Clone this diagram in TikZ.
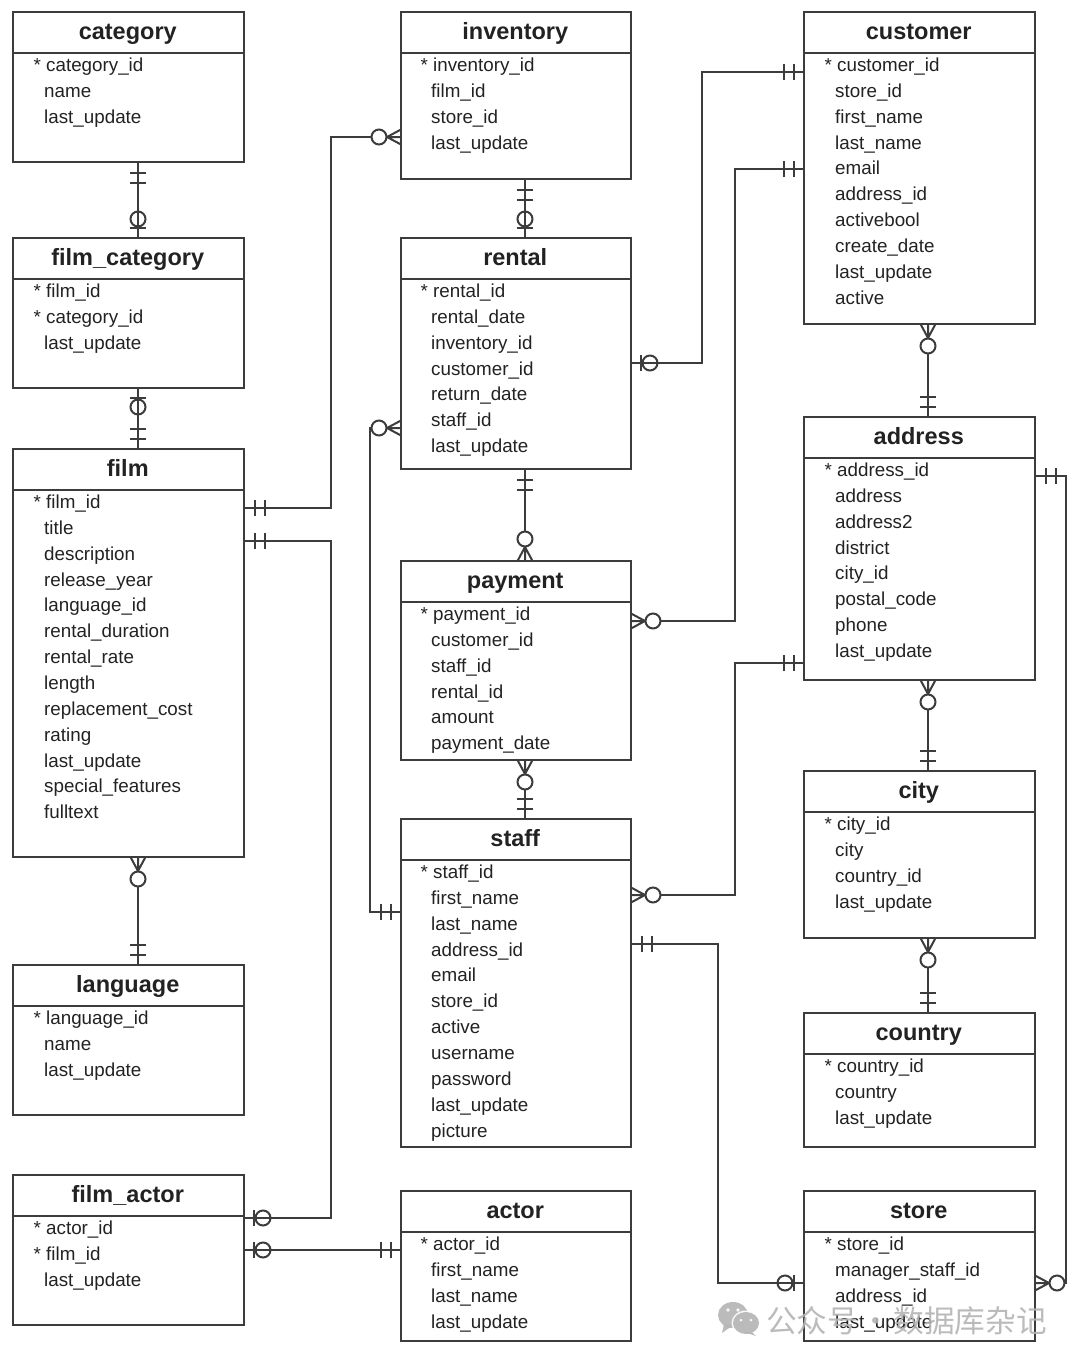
\documentclass[tikz,border=0pt]{standalone}
\usepackage{fontspec}
\setmainfont{Liberation Sans}
\newfontfamily\cjkfont{Noto Sans CJK SC}
\usepackage{xcolor}
\usetikzlibrary{decorations.markings}

\definecolor{linegray}{HTML}{3C3C3C}
\definecolor{textgray}{HTML}{222222}
\definecolor{markgray}{HTML}{B4B4B4}

\newcommand{\pk}{\hspace*{2pt}\llap{*\ }}
% [indent], name, left, top, width, height, title, fields
\newcommand{\tablebox}[8][31]{
  \node[tablerect, minimum width=#5pt, minimum height=#6pt] (#2) at (#3,#4) {};
  \node[tablerect, minimum width=#5pt, minimum height=40.5pt, text height=18pt, text depth=4.5pt, font=\headfont] (#2-head) at (#2.north west) {#7\kern1.5pt};
  \node[tablefields] (#2-fields) at ([xshift=#1pt]#2-head.south west) {\rule{0pt}{18.8pt}#8};
}
\newcommand{\headfont}{\fontsize{23.5}{26}\selectfont\bfseries\color{textgray}}

\tikzset{
  tablerect/.style={draw=linegray, line width=2pt, rectangle, inner sep=0pt, outer sep=0pt, anchor=north west},
  tablefields/.style={inner sep=0pt, anchor=north west, align=left, text=textgray, font=\fontsize{18.8}{25.85}\selectfont},
  rel/.style={draw=linegray, line width=2pt},
  pics/onebars/.style={code={
    \draw[rel] (10.5,-8.3) -- (10.5,8.3) (20.5,-8.3) -- (20.5,8.3);
  }},
  pics/optbar/.style={code={
    \draw[rel] (10,-8.3) -- (10,8.3);
    \draw[rel] (19,0) circle (7.5);
  }},
  pics/manyopt/.style={code={
    \draw[rel] (0,-7.5) -- (14,0) -- (0,7.5) (0,0) -- (14,0);
    \draw[rel, fill=white] (22,0) circle (7.5);
  }},
  from one/.style={postaction={decorate, decoration={markings, mark=at position 0 with {\pic[transform shape] {onebars};}}}},
  from opt/.style={postaction={decorate, decoration={markings, mark=at position 0 with {\pic[transform shape] {optbar};}}}},
  from many/.style={postaction={decorate, decoration={markings, mark=at position 0 with {\pic[transform shape] {manyopt};}}}},
  to one/.style={postaction={decorate, decoration={markings, mark=at position 1 with {\pic[transform shape, rotate=180] {onebars};}}}},
  to opt/.style={postaction={decorate, decoration={markings, mark=at position 1 with {\pic[transform shape, rotate=180] {optbar};}}}},
  to many/.style={postaction={decorate, decoration={markings, mark=at position 1 with {\pic[transform shape, rotate=180] {manyopt};}}}}
}

\begin{document}
\begin{tikzpicture}[x=1pt, y=-1pt]
  \useasboundingbox (0,0) rectangle (1080,1363);

  % left column
  \tablebox{category}{13}{12}{231}{150}{category}{\pk category\_id\\name\\last\_update}
  \tablebox{filmcategory}{13}{238}{231}{150}{film\_category}{\pk film\_id\\\pk category\_id\\last\_update}
  \tablebox{film}{13}{449}{231}{408}{film}{\pk film\_id\\title\\description\\release\_year\\language\_id\\rental\_duration\\rental\_rate\\length\\replacement\_cost\\rating\\last\_update\\special\_features\\fulltext}
  \tablebox{language}{13}{965}{231}{150}{language}{\pk language\_id\\name\\last\_update}
  \tablebox{filmactor}{13}{1175}{231}{150}{film\_actor}{\pk actor\_id\\\pk film\_id\\last\_update}

  % middle column
  \tablebox[30]{inventory}{401}{12}{230}{167}{inventory}{\pk inventory\_id\\film\_id\\store\_id\\last\_update}
  \tablebox[30]{rental}{401}{238}{230}{231}{rental}{\pk rental\_id\\rental\_date\\inventory\_id\\customer\_id\\return\_date\\staff\_id\\last\_update}
  \tablebox[30]{payment}{401}{561}{230}{199}{payment}{\pk payment\_id\\customer\_id\\staff\_id\\rental\_id\\amount\\payment\_date}
  \tablebox[30]{staff}{401}{819}{230}{328}{staff}{\pk staff\_id\\first\_name\\last\_name\\address\_id\\email\\store\_id\\active\\username\\password\\last\_update\\picture}
  \tablebox[30]{actor}{401}{1191}{230}{150}{actor}{\pk actor\_id\\first\_name\\last\_name\\last\_update}

  % right column
  \tablebox{customer}{804}{12}{231}{312}{customer}{\pk customer\_id\\store\_id\\first\_name\\last\_name\\email\\address\_id\\activebool\\create\_date\\last\_update\\active}
  \tablebox{address}{804}{417}{231}{263}{address}{\pk address\_id\\address\\address2\\district\\city\_id\\postal\_code\\phone\\last\_update}
  \tablebox{city}{804}{771}{231}{167}{city}{\pk city\_id\\city\\country\_id\\last\_update}
  \tablebox{country}{804}{1013}{231}{134}{country}{\pk country\_id\\country\\last\_update}
  \tablebox{store}{804}{1191}{231}{150}{store}{\pk store\_id\\manager\_staff\_id\\address\_id\\last\_update}

  % vertical links
  \draw[rel, from one, to opt] (category.south -| 138,0) -- (filmcategory.north -| 138,0);
  \draw[rel, from opt, to one] (filmcategory.south -| 138,0) -- (film.north -| 138,0);
  \draw[rel, from many, to one] (film.south -| 138,0) -- (language.north -| 138,0);
  \draw[rel, from one, to opt] (inventory.south -| 525,0) -- (rental.north -| 525,0);
  \draw[rel, from one, to many] (rental.south -| 525,0) -- (payment.north -| 525,0);
  \draw[rel, from many, to one] (payment.south -| 525,0) -- (staff.north -| 525,0);
  \draw[rel, from many, to one] (customer.south -| 928,0) -- (address.north -| 928,0);
  \draw[rel, from many, to one] (address.south -| 928,0) -- (city.north -| 928,0);
  \draw[rel, from many, to one] (city.south -| 928,0) -- (country.north -| 928,0);

  % links with corners
  \draw[rel, from one, to many] (film.east |- 0,508) -- (331,508) |- (inventory.west |- 0,137);
  \draw[rel, from one, to opt] (film.east |- 0,541) -- (331,541) |- (filmactor.east |- 0,1218);
  \draw[rel, from opt, to one] (filmactor.east |- 0,1250) -- (actor.west |- 0,1250);
  \draw[rel, from opt, to one] (rental.east |- 0,363) -- (702,363) |- (customer.west |- 0,72);
  \draw[rel, from many, to one] (rental.west |- 0,428) -- (370,428) |- (staff.west |- 0,912);
  \draw[rel, from many, to one] (payment.east |- 0,621) -- (735,621) |- (customer.west |- 0,169);
  \draw[rel, from one, to many] (address.west |- 0,663) -- (735,663) |- (staff.east |- 0,895);
  \draw[rel, from one, to opt] (staff.east |- 0,944) -- (718,944) |- (store.west |- 0,1283);
  \draw[rel, from one, to many] (address.east |- 0,476) -- (1066,476) |- (store.east |- 0,1283);

  % watermark
  \begin{scope}[fill=markgray, opacity=0.9]
    \fill (733,1315) ellipse (15 and 13);
    \fill (724,1324) -- (722,1333) -- (732,1326) -- cycle;
    \fill[white] (746,1323) ellipse (14.5 and 12.5);
    \fill (746,1323) ellipse (13 and 11);
    \fill (752,1332) -- (756,1336) -- (744,1332) -- cycle;
    \fill[white] (728,1310) circle (1.8) (738,1310) circle (1.8) (741,1320) circle (1.5) (751,1320) circle (1.5);
  \end{scope}
  \node[inner sep=0pt, anchor=west, text=markgray, opacity=0.9, font=\fontsize{30.7}{32}\selectfont\cjkfont] (mark) at (766,1321) {公众号\hspace{2.2pt}·\hspace{2.2pt}数据库杂记};
\end{tikzpicture}
\end{document}
